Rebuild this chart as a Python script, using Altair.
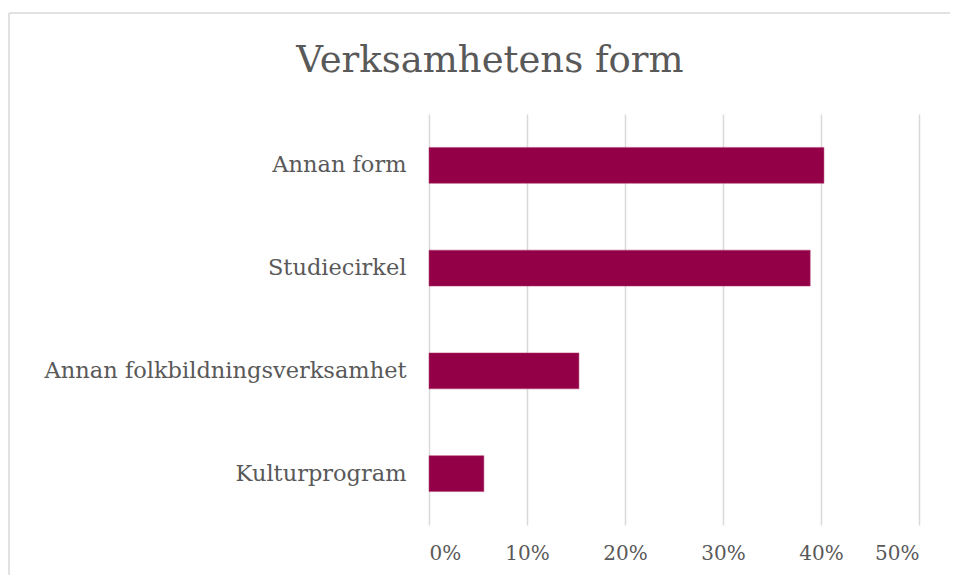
import altair as alt
import pandas as pd

title_text = "Verksamhetens form"
categories = ["Annan form", "Studiecirkel", "Annan folkbildningsverksamhet", "Kulturprogram"]
values = [0.403, 0.389, 0.153, 0.056]
tick_values = [0, 0.1, 0.2, 0.3, 0.4, 0.5]

df = pd.DataFrame({"form": categories, "share": values})

FONT = "DejaVu Serif"
TXT = "#595959"

bars = alt.Chart(df).mark_bar(color="#930048", stroke="#b0406f", strokeWidth=0.5).encode(
    x=alt.X("share:Q", scale=alt.Scale(domain=[0, 0.5], nice=False),
            axis=alt.Axis(format="%", values=tick_values, title=None, domain=False, ticks=False,
                          grid=True, gridColor="#d9d9d9", gridWidth=1.5,
                          labelFont=FONT, labelFontSize=20, labelColor=TXT, labelPadding=18)),
    y=alt.Y("form:N", sort=categories,
            scale=alt.Scale(paddingInner=0.65, paddingOuter=0.325),
            axis=alt.Axis(title=None, domain=False, ticks=False, grid=False,
                          labelFont=FONT, labelFontSize=22.5, labelColor=TXT, labelPadding=23,
                          labelLimit=500)),
)

one = pd.DataFrame({"k": [0]})
frame_top = alt.Chart(one).mark_rule(stroke="#d9d9d9", strokeWidth=1.5).encode(
    x=alt.value(-420), x2=alt.value(530), y=alt.value(-101)
)
frame_left = alt.Chart(one).mark_rule(stroke="#d9d9d9", strokeWidth=1.5).encode(
    x=alt.value(-420), y=alt.value(-101), y2=alt.value(500)
)

title = alt.Chart(pd.DataFrame({"t": [title_text]})).mark_text(
    font=FONT, fontSize=37, color=TXT, align="center", baseline="alphabetic"
).encode(text="t:N", x=alt.value(61), y=alt.value(-42))

chart = alt.layer(frame_top, frame_left, bars, title).properties(
    width=490, height=411,
    autosize=alt.AutoSizeParams(type="none"),
    padding={"left": 421, "top": 106, "right": 31, "bottom": 50},
).configure_view(stroke=None)

chart.save("out.html", embed_options={"renderer": "svg", "actions": False})
